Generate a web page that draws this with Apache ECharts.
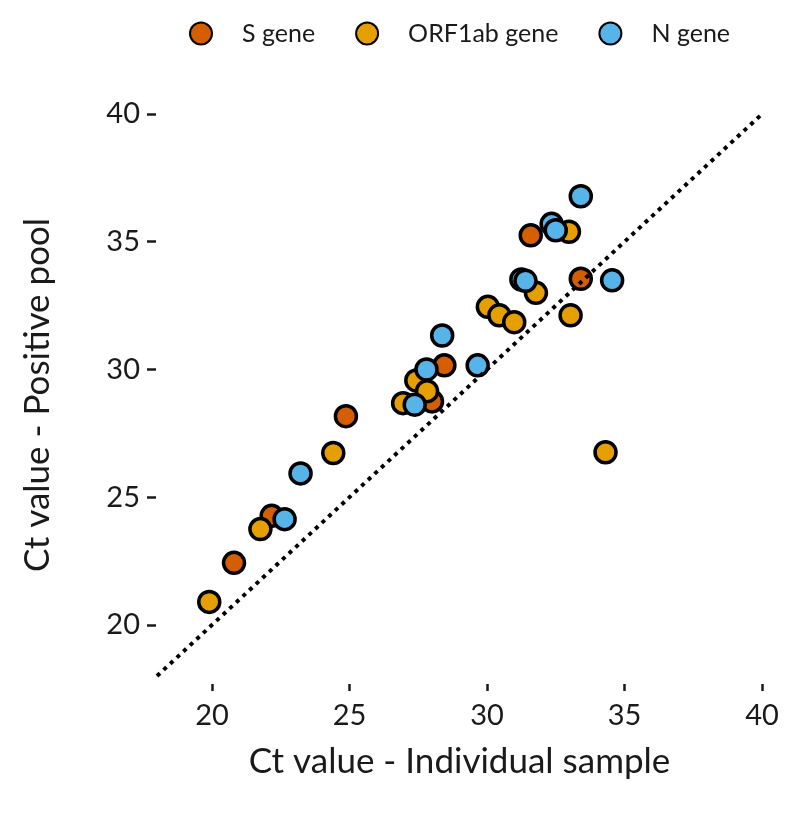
<!DOCTYPE html>
<html>
<head>
<meta charset="utf-8">
<script src="https://cdn.jsdelivr.net/npm/echarts@6/dist/echarts.min.js"></script>
<style>html,body{margin:0;padding:0;background:#fff;}#c{width:797px;height:824px;}</style>
</head>
<body>
<div id="c"></div>
<script>
const seriesNames = ["S gene", "ORF1ab gene", "N gene"];
const sGene = [[20.8,22.43],[22.17,24.27],[24.87,28.17],[28.0,28.75],[28.45,30.16],[31.59,35.25],[33.41,33.55]];
const orf1abGene = [[19.9,20.9],[21.76,23.75],[24.41,26.73],[26.95,28.68],[27.43,29.57],[27.82,29.15],[30.03,32.45],[30.45,32.12],[30.99,31.85],[31.78,33.0],[32.98,35.39],[33.04,32.12],[34.31,26.76]];
const nGene = [[22.64,24.14],[23.22,25.93],[27.37,28.62],[27.8,30.0],[28.37,31.33],[29.66,30.16],[31.25,33.52],[31.4,33.47],[32.35,35.7],[32.5,35.45],[33.41,36.78],[34.55,33.49]];
const identityLine = [[18,18],[40,40]];
const tickValues = [20,25,30,35,40];
const colors = ["#D55E00", "#E69F00", "#56B4E9"];

const FONT = "Lato";
const chart = echarts.init(document.getElementById('c'), null, {renderer:'canvas'});
function scatter(name, data, color){
  return {name:name, type:'scatter', data:data, symbol:'circle', symbolSize:21,
    itemStyle:{color:color, borderColor:'#000', borderWidth:3.5, opacity:1}, z:2};
}
chart.setOption({
  animation:false,
  legend:{
    data:seriesNames, top:16, left:184, itemWidth:22, itemHeight:22, itemGap:40,
    icon:'circle',
    textStyle:{fontFamily:FONT, fontSize:25, color:'#1a1a1a', padding:[0,0,0,25]}
  },
  grid:{left:157, right:35, top:114, bottom:148},
  xAxis:{
    type:'value', min:18, max:40, interval:5,
    axisLine:{show:false}, splitLine:{show:false}, offset:8,
    axisTick:{show:true, length:7, lineStyle:{color:'#1a1a1a', width:2.5}, customValues:tickValues},
    axisLabel:{fontFamily:FONT, fontSize:29, color:'#1a1a1a', margin:17, customValues:tickValues},
    name:'Ct value - Individual sample', nameLocation:'middle', nameGap:60,
    nameTextStyle:{fontFamily:FONT, fontSize:35, color:'#1a1a1a'}
  },
  yAxis:{
    type:'value', min:18, max:40, interval:5,
    axisLine:{show:false}, splitLine:{show:false}, offset:1,
    axisTick:{show:true, length:9, lineStyle:{color:'#1a1a1a', width:2.5}, customValues:tickValues},
    axisLabel:{fontFamily:FONT, fontSize:29, color:'#1a1a1a', margin:16, customValues:tickValues},
    name:'Ct value - Positive pool', nameLocation:'middle', nameGap:101,
    nameTextStyle:{fontFamily:FONT, fontSize:35, color:'#1a1a1a'}
  },
  series:[
    scatter(seriesNames[0], sGene, colors[0]),
    scatter(seriesNames[1], orf1abGene, colors[1]),
    scatter(seriesNames[2], nGene, colors[2]),
    {type:'line', data:identityLine, showSymbol:false, symbol:'none', silent:true, z:5,
     lineStyle:{color:'#000', width:4, type:[4,5]}}
  ]
});
</script>
</body>
</html>
